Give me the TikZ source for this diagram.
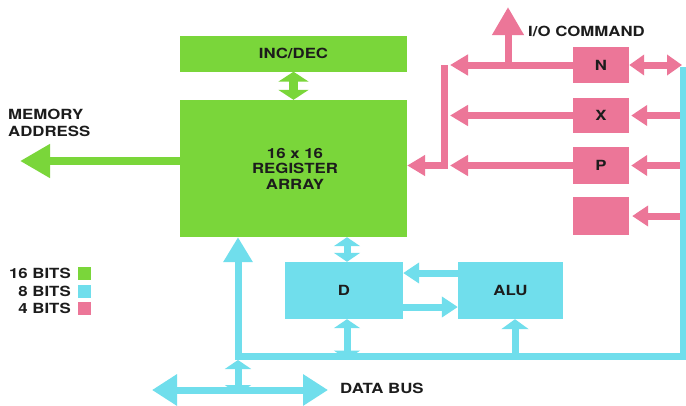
\documentclass[tikz,border=0pt]{standalone}
\usepackage{fontspec}
\setmainfont{TeX Gyre Heros}[FakeStretch=1.2]
\usetikzlibrary{arrows.meta}
\definecolor{grn}{RGB}{122,214,58}
\definecolor{cyn}{RGB}{112,222,236}
\definecolor{pnk}{RGB}{236,118,152}
\definecolor{ink}{RGB}{28,28,28}
\tikzset{
  lab/.style={text=ink, font=\fontsize{14}{15.5}\selectfont\bfseries, inner sep=0pt},
  gbox/.style={fill=grn, draw=none, inner sep=0pt},
  cbox/.style={fill=cyn, draw=none, inner sep=0pt},
  pbx/.style={fill=pnk, draw=none, inner sep=0pt, minimum width=56pt},
  gline/.style={draw=grn, line width=8pt},
  cline/.style={draw=cyn, line width=7pt},
  pline/.style={draw=pnk, line width=7pt},
  smalldbl/.style={{Triangle[width=26pt,length=9pt]}-{Triangle[width=26pt,length=9pt]}},
}
\begin{document}
\begin{tikzpicture}[x=1pt,y=-1pt]
\useasboundingbox[fill=white] (0,0) rectangle (686,405);

% green boxes
\node[gbox, minimum width=227pt, minimum height=36pt] (incdec) at (293.5,53.5) {};
\node[gbox, minimum width=227pt, minimum height=137pt] (reg) at (293.5,168.5) {};
% pink boxes
\node[pbx, minimum height=36pt] (nbox) at (601,65) {};
\node[pbx, minimum height=35pt] (xbox) at (601,115.5) {};
\node[pbx, minimum height=37pt] (pbox) at (601,165.5) {};
\node[pbx, minimum height=38pt] (blank) at (601,216) {};
% cyan boxes
\node[cbox, minimum width=118pt, minimum height=57pt] (dbox) at (344,290.5) {};
\node[cbox, minimum width=105pt, minimum height=57pt] (alu) at (510.5,290.5) {};

% coordinates
\coordinate (memtip) at (20,161);
\coordinate (ptap) at (450,0);
\coordinate (pbusx) at (444,0);
\coordinate (iotip) at (508,7);
\coordinate (redge) at (682,0);
\coordinate (ctop) at (683,67);
\coordinate (ccorner) at (683,356);
\coordinate (busx) at (238,356);
\coordinate (dcol) at (347,356);
\coordinate (dbleft) at (152,390);
\coordinate (dbright) at (328,390);
\coordinate (dbtop) at (238,360);
\coordinate (alucol) at (515,356);

% green connectors
\draw[gline, -{Triangle[width=32pt,length=30pt]}] (reg.west |- memtip) -- (memtip);
\draw[draw=grn, line width=9pt, {Triangle[width=30pt,length=10pt]}-{Triangle[width=30pt,length=10pt]}]
  (incdec.south) -- (reg.north);

% pink connectors
\draw[pline] (pbusx |- nbox.west) -- (pbusx |- pbox.west) -- ++(0,3.5);
\draw[pline, -{Triangle[width=20pt,length=18pt]}] (nbox.west) -- (ptap |- nbox.west);
\draw[pline, -{Triangle[width=20pt,length=18pt]}] (xbox.west) -- (ptap |- xbox.west);
\draw[pline, -{Triangle[width=20pt,length=18pt]}] (pbox.west) -- (ptap |- pbox.west);
\draw[pline, -{Triangle[width=20pt,length=18pt]}] (pbusx |- pbox.west) -- (reg.east |- pbox.west);
\draw[pline, -{Triangle[width=30pt,length=28pt]}] (iotip |- nbox.west) ++(0,3.5) -- (iotip);
\draw[pline, {Triangle[width=20pt,length=15pt]}-{Triangle[width=20pt,length=15pt]}]
  (nbox.east) -- (redge |- nbox.east);
\draw[pline, -{Triangle[width=20pt,length=16pt]}] (redge |- xbox.east) -- ([xshift=2pt]xbox.east);
\draw[pline, -{Triangle[width=20pt,length=16pt]}] (redge |- pbox.east) -- ([xshift=2pt]pbox.east);
\draw[pline, -{Triangle[width=20pt,length=16pt]}] (redge |- blank.east) -- ([xshift=3pt]blank.east);

% cyan connectors
\draw[cline, line join=miter, -{Triangle[width=28pt,length=25pt]}]
  (ctop) -- (ccorner) -- (busx) -- (busx |- reg.south);
\draw[cline, smalldbl] (dcol |- reg.south) -- (dcol |- dbox.north);
\draw[cline, smalldbl] (dcol |- dbox.south) -- ([yshift=-3.5pt]dcol);
\draw[cline, smalldbl] (dbtop) -- ([yshift=-4pt]busx |- dbleft);
\draw[cline, {Triangle[width=30pt,length=25pt]}-{Triangle[width=30pt,length=25pt]}] (dbleft) -- (dbright);
\draw[cline, -{Triangle[width=27pt,length=10pt]}] ([yshift=-3.5pt]alucol) -- (alucol |- alu.south);
\draw[cline, -{Triangle[width=20pt,length=16pt]}] (alu.west |- 0,273) -- (dbox.east |- 0,273);
\draw[cline, -{Triangle[width=20pt,length=16pt]}] (dbox.east |- 0,307) -- (alu.west |- 0,307);

% labels
\node[lab] at (incdec.center) {INC/DEC};
\node[lab, align=center] at ([xshift=1.5pt]reg.center) {16 x 16\\REGISTER\\ARRAY};
\node[lab, align=left, anchor=west, font=\fontsize{14}{17}\selectfont\bfseries] at (8,122.5) {MEMORY\\ADDRESS};
\node[lab, anchor=west] at (528,31) {I/O COMMAND};
\node[lab] at (nbox.center) {N};
\node[lab] at (xbox.center) {X};
\node[lab] at (pbox.center) {P};
\node[lab] at (dbox.center) {D};
\node[lab] at (alu.center) {ALU};
\node[lab, anchor=west] at (340,388) {DATA BUS};

% legend
\node[lab, anchor=east] (l16) at (71,273) {16 BITS};
\node[lab, anchor=east] (l8) at (71,291) {8 BITS};
\node[lab, anchor=east] (l4) at (71,308.5) {4 BITS};
\node[gbox, minimum size=13pt, anchor=west] at ([xshift=7pt]l16.east) {};
\node[cbox, minimum size=13pt, anchor=west] at ([xshift=7pt]l8.east) {};
\node[fill=pnk, inner sep=0pt, minimum size=13pt, anchor=west] at ([xshift=7pt]l4.east) {};
\end{tikzpicture}
\end{document}
